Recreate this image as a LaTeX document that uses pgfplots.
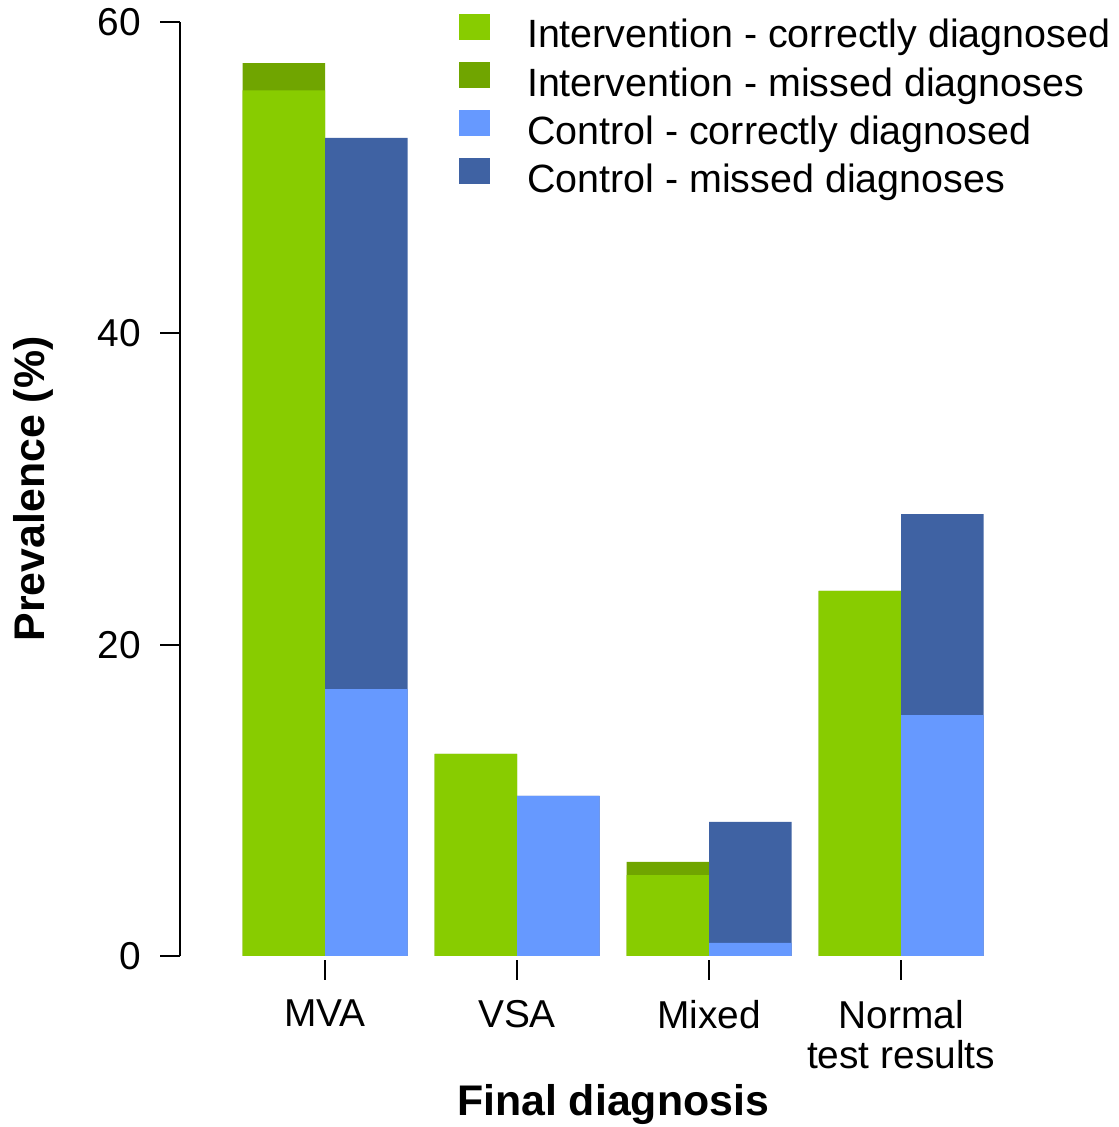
\documentclass[border=0pt]{standalone}
\usepackage{pgfplots}
\pgfplotsset{compat=1.18}
\usepackage{fontspec}
\setmainfont{Liberation Sans}

\definecolor{intC}{HTML}{88CC00}
\definecolor{intM}{HTML}{70A500}
\definecolor{ctlC}{HTML}{6699FF}
\definecolor{ctlM}{HTML}{3F62A3}

% group positions: 0 = MVA, 1 = VSA, 2 = Mixed, 3 = Normal test results
% tot = correctly diagnosed + missed diagnoses (bar height), cor = correctly diagnosed
\pgfplotstableread{
x  cor   tot
0  55.6  57.35
1  12.98 12.98
2  5.2   6.04
3  23.45 23.45
}\intervention
\pgfplotstableread{
x  cor   tot
0  17.15 52.55
1  10.28 10.28
2  0.84  8.61
3  15.48 28.39
}\control

\newcommand{\lbl}{\fontsize{19.5}{20}\selectfont}
\newcommand{\leg}{\fontsize{19.8}{20}\selectfont}
\newcommand{\ttl}{\fontsize{21.5}{24}\selectfont\bfseries}

\begin{document}
\begin{tikzpicture}
\begin{axis}[
  x=96bp, y=7.7833bp,
  xmin=-0.7552, xmax=3.755,
  ymin=0, ymax=60,
  clip=false,
  axis y line*=left,
  axis x line*=bottom,
  x axis line style={draw=none},
  y axis line style={line width=1bp, black},
  tick align=outside,
  major tick length=10bp,
  every tick/.style={line width=1bp, black},
  xtick style={yshift=-2bp},
  ytick={0,20,40,60},
  xtick={0,1,2,3},
  xticklabels={MVA, VSA, Mixed, {Normal\\test results}},
  /pgf/number format/assume math mode=true,
  yticklabel style={font=\lbl, xshift=-6bp},
  xticklabel style={font=\lbl, align=center, yshift=-8.5bp},
  xlabel={Final diagnosis},
  ylabel={Prevalence (\%)},
  every axis x label/.style={at={(axis description cs:0.5,-0.1713)}, anchor=base, font=\ttl, inner sep=0pt},
  every axis y label/.style={at={(axis description cs:-0.1559,0.5)}, rotate=90, anchor=base, font=\ttl, inner sep=0pt},
  legend image code/.code={\fill[#1] (0bp,0bp) rectangle (15.5bp,13bp);},
  legend style={draw=none, fill=none, inner sep=0pt, outer sep=0pt,
    at={(axis description cs:0.3222,1.0085)}, anchor=north west,
    row sep=0pt,
    nodes={font=\leg, inner sep=0pt, outer sep=0pt, text height=15bp, text depth=7.1bp},
    /tikz/every odd column/.append style={column sep=18.5bp}},
  legend cell align=left,
]
% invisible frame fixing the picture's extent
\path (axis cs:-1.6927,-10.985) rectangle (axis cs:4.1302,61.41);

\addlegendimage{fill=intC, draw=none}
\addlegendentry{Intervention - correctly diagnosed}
\addlegendimage{fill=intM, draw=none}
\addlegendentry{Intervention - missed diagnoses}
\addlegendimage{fill=ctlC, draw=none}
\addlegendentry{Control - correctly diagnosed}
\addlegendimage{fill=ctlM, draw=none}
\addlegendentry{Control - missed diagnoses}

% intervention bars: total (missed on top) then correct part
\addplot[ybar, bar width=0.4297, bar shift=-0.2148, fill=intM, draw=none, forget plot]
  table[x=x, y=tot] {\intervention};
\addplot[ybar, bar width=0.4297, bar shift=-0.2148, fill=intC, draw=none, forget plot]
  table[x=x, y=cor] {\intervention};
% control bars
\addplot[ybar, bar width=0.4297, bar shift=0.2148, fill=ctlM, draw=none, forget plot]
  table[x=x, y=tot] {\control};
\addplot[ybar, bar width=0.4297, bar shift=0.2148, fill=ctlC, draw=none, forget plot]
  table[x=x, y=cor] {\control};
\end{axis}
\end{tikzpicture}
\end{document}
